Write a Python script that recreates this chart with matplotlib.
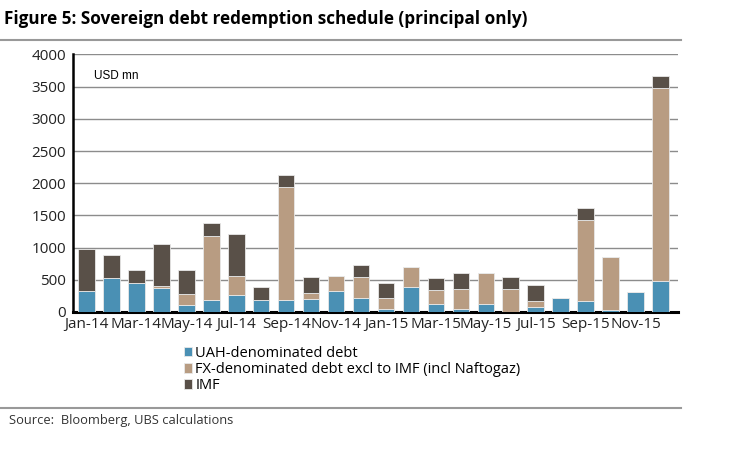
import matplotlib.pyplot as plt
import numpy as np

months = [
    "Jan-14", "Feb-14", "Mar-14", "Apr-14", "May-14", "Jun-14",
    "Jul-14", "Aug-14", "Sep-14", "Oct-14", "Nov-14", "Dec-14",
    "Jan-15", "Feb-15", "Mar-15", "Apr-15", "May-15", "Jun-15",
    "Jul-15", "Aug-15", "Sep-15", "Oct-15", "Nov-15", "Dec-15",
]
uah = [320, 530, 450, 375, 110, 185, 265, 190, 185, 205, 330, 210,
       40, 380, 130, 50, 130, 0, 70, 220, 175, 35, 305, 480]
fx = [0, 0, 0, 25, 175, 1000, 290, 0, 1755, 90, 235, 335,
      170, 315, 210, 310, 475, 355, 105, 0, 1260, 825, 0, 3000]
imf = [650, 360, 200, 650, 370, 200, 660, 190, 190, 245, 0, 185,
       245, 0, 190, 240, 0, 190, 240, 0, 185, 0, 0, 190]

c_uah = "#4a90b4"
c_fx = "#b89c82"
c_imf = "#595048"

plt.rcParams["font.family"] = ["Open Sans", "DejaVu Sans"]

fig = plt.figure(figsize=(7.36, 4.54), dpi=100)
ax = fig.add_axes([0.099, 0.313, 0.822, 0.567])

x = np.arange(len(months))
uah = np.array(uah)
fx = np.array(fx)
imf = np.array(imf)
w = 0.66
ax.bar(x, uah, w, color=c_uah, edgecolor="#e8e8e8", linewidth=0.6,
       label="UAH-denominated debt", zorder=3)
ax.bar(x, fx, w, bottom=uah, color=c_fx, edgecolor="#e8e8e8", linewidth=0.6,
       label="FX-denominated debt excl to IMF (incl Naftogaz)", zorder=3)
ax.bar(x, imf, w, bottom=uah + fx, color=c_imf, edgecolor="#e8e8e8",
       linewidth=0.6, label="IMF", zorder=3)

ax.set_xlim(-0.55, len(months) - 0.3)
ax.set_ylim(0, 4000)
ax.set_yticks(range(0, 4001, 500))
ax.set_xticks(x[::2])
ax.set_xticklabels(months[::2])
ax.yaxis.grid(True, color="#8c8c8c", linewidth=1.0, zorder=0)
ax.tick_params(axis="both", length=0, labelsize=11, colors="#222222")
ax.tick_params(axis="x", pad=4)
ax.tick_params(axis="y", pad=5)
for s in ["top", "right"]:
    ax.spines[s].set_visible(False)
ax.spines["left"].set_linewidth(1.8)
ax.spines["bottom"].set_linewidth(2.2)
ax.text(0.3, 3570, "USD mn", fontsize=8.5, va="bottom", ha="left",
        family=["Liberation Sans"])

ax.legend(loc="upper left", bbox_to_anchor=(0.183, -0.132), frameon=False,
          fontsize=10.5, handlelength=0.6, handleheight=0.6, handletextpad=0.2,
          labelspacing=0.08, borderaxespad=0, borderpad=0)

fig.text(0.005, 0.958, "Figure 5: Sovereign debt redemption schedule (principal only)",
         fontsize=12.3, fontweight="bold", va="center", ha="left")
fig.add_artist(plt.Line2D([0.0, 0.925], [0.912, 0.912], color="#999999",
                          linewidth=1.5, transform=fig.transFigure))
fig.add_artist(plt.Line2D([0.0, 0.925], [0.101, 0.101], color="#999999",
                          linewidth=1.5, transform=fig.transFigure))
fig.text(0.012, 0.073, "Source:  Bloomberg, UBS calculations", fontsize=9.3,
         va="center", ha="left", color="#333333")

fig.savefig("out.png", dpi=100)
